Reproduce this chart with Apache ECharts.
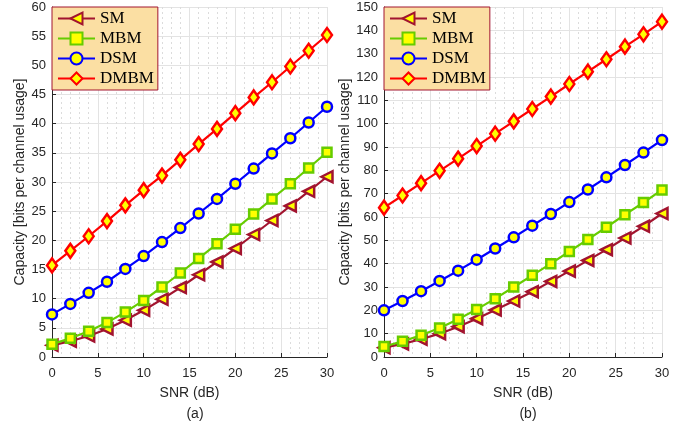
<!DOCTYPE html>
<html>
<head>
<meta charset="utf-8">
<script src="https://cdn.jsdelivr.net/npm/echarts@6/dist/echarts.min.js"></script>
<style>
  html, body { margin: 0; padding: 0; background: #fff; }
  #chart { width: 688px; height: 426px; }
</style>
</head>
<body>
<div id="chart"></div>
<script>
  var snr = [0, 2, 4, 6, 8, 10, 12, 14, 16, 18, 20, 22, 24, 26, 28, 30];

  // (a)
  var smA = [2, 2.7, 3.6, 4.8, 6.3, 8, 9.9, 11.9, 14.1, 16.3, 18.6, 21, 23.4, 25.9, 28.4, 30.9];
  var mbmA = [2.2, 3.2, 4.4, 5.9, 7.7, 9.7, 12, 14.4, 16.9, 19.4, 21.9, 24.5, 27.1, 29.7, 32.4, 35.1];
  var dsmA = [7.3, 9.1, 11, 12.9, 15.1, 17.3, 19.7, 22.1, 24.6, 27.1, 29.7, 32.3, 34.9, 37.5, 40.2, 42.9];
  var dmbmA = [15.7, 18.2, 20.7, 23.3, 26, 28.6, 31.1, 33.8, 36.5, 39.1, 41.8, 44.5, 47.1, 49.8, 52.5, 55.2];

  // (b)
  var smB = [4, 5.6, 7.6, 10, 13, 16.4, 20.1, 24, 28, 32.4, 36.8, 41.4, 46, 51, 56, 61.5];
  var mbmB = [4.5, 6.7, 9.3, 12.4, 16.2, 20.4, 25, 30, 35, 40, 45.2, 50.4, 55.6, 61, 66.2, 71.6];
  var dsmB = [20, 24, 28.2, 32.6, 37, 41.7, 46.5, 51.3, 56.3, 61.3, 66.4, 71.8, 77, 82.3, 87.6, 93];
  var dmbmB = [64, 69.2, 74.5, 79.8, 85, 90.4, 95.7, 101, 106.3, 111.6, 117, 122.3, 127.6, 133, 138.3, 143.7];

  var names = ['SM', 'MBM', 'DSM', 'DMBM'];
  var colors = ['#A2142F', '#66CC00', '#0000FF', '#FF0000'];
  var symbols = ['triangle', 'rect', 'circle', 'diamond'];
  var symSizes = [[11, 11], [9, 9], [10, 10], [10, 14]];
  var symRot = [90, 0, 0, 0];

  var sansFont = 'Liberation Sans';
  var serifFont = 'Liberation Serif';

  function zip(xs, ys) {
    return xs.map(function (x, i) { return [x, ys[i]]; });
  }

  function makeSeries(idx, data, grid) {
    return {
      name: names[idx],
      type: 'line',
      xAxisIndex: grid,
      yAxisIndex: grid,
      data: zip(snr, data),
      symbol: symbols[idx],
      symbolSize: symSizes[idx],
      symbolRotate: symRot[idx],
      showAllSymbol: true,
      lineStyle: { color: colors[idx], width: 2.2 },
      itemStyle: { color: '#FFFF00', borderColor: colors[idx], borderWidth: 2.5 },
      emphasis: { disabled: true },
      z: 2 + idx
    };
  }

  function xAxis(grid) {
    return {
      type: 'value',
      gridIndex: grid,
      min: 0, max: 30, interval: 5,
      axisLine: { show: true, onZero: false, lineStyle: { color: '#262626', width: 1 } },
      axisTick: { show: true, inside: true, length: 4, lineStyle: { color: '#262626' } },
      minorTick: { show: false, splitNumber: 5 },
      minorSplitLine: { show: true, lineStyle: { color: '#DCDCDC', type: [2, 3], width: 1 } },
      splitLine: { show: true, lineStyle: { color: '#E3E3E3', width: 1 } },
      axisLabel: { color: '#262626', fontFamily: sansFont, fontSize: 13, margin: 10 },
      name: 'SNR (dB)',
      nameLocation: 'middle',
      nameGap: 29,
      nameTextStyle: { color: '#262626', fontFamily: sansFont, fontSize: 14 }
    };
  }

  function yAxis(grid, max, interval, gap) {
    return {
      type: 'value',
      gridIndex: grid,
      min: 0, max: max, interval: interval,
      axisLine: { show: true, onZero: false, lineStyle: { color: '#262626', width: 1 } },
      axisTick: { show: true, inside: true, length: 4, lineStyle: { color: '#262626' } },
      splitLine: { show: true, lineStyle: { color: '#E3E3E3', width: 1 } },
      axisLabel: { color: '#262626', fontFamily: sansFont, fontSize: 13, margin: 6 },
      name: 'Capacity [bits per channel usage]',
      nameLocation: 'middle',
      nameGap: gap,
      nameTextStyle: { color: '#262626', fontFamily: sansFont, fontSize: 14 }
    };
  }

  function legend(left) {
    return {
      data: names,
      orient: 'vertical',
      left: left,
      top: 7,
      padding: [3, 4, 3, 5],
      itemGap: 3,
      itemWidth: 37,
      itemHeight: 15,
      backgroundColor: '#FBDFA3',
      borderColor: '#A2142F',
      borderWidth: 1,
      borderRadius: 0,
      selectedMode: false,
      textStyle: { fontFamily: serifFont, fontSize: 17, lineHeight: 17, color: '#000' }
    };
  }

  var chart = echarts.init(document.getElementById('chart'));
  chart.setOption({
    animation: false,
    backgroundColor: '#fff',
    title: [
      { text: '(a)', left: 190, top: 402, textAlign: 'center',
        textStyle: { fontFamily: sansFont, fontSize: 14, fontWeight: 'normal', color: '#262626' } },
      { text: '(b)', left: 523, top: 402, textAlign: 'center',
        textStyle: { fontFamily: sansFont, fontSize: 14, fontWeight: 'normal', color: '#262626' } }
    ],
    grid: [
      { left: 52, right: 361, top: 7, bottom: 69 },
      { left: 384, right: 26, top: 7, bottom: 69 }
    ],
    legend: [legend(52), legend(384)],
    xAxis: [xAxis(0), xAxis(1)],
    yAxis: [yAxis(0, 60, 5, 24), yAxis(1, 150, 10, 32)],
    series: [
      makeSeries(0, smA, 0), makeSeries(1, mbmA, 0), makeSeries(2, dsmA, 0), makeSeries(3, dmbmA, 0),
      makeSeries(0, smB, 1), makeSeries(1, mbmB, 1), makeSeries(2, dsmB, 1), makeSeries(3, dmbmB, 1)
    ]
  });
</script>
</body>
</html>
